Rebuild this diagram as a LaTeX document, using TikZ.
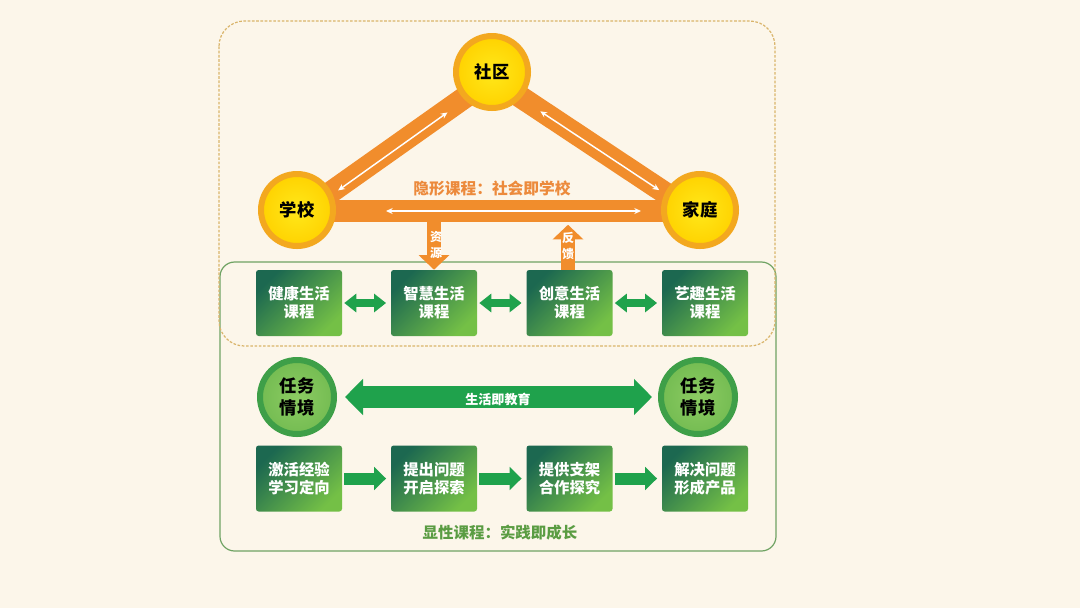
\documentclass[tikz,border=0pt]{standalone}
\usepackage{fontspec}
\setmainfont{Noto Sans CJK SC}
\usetikzlibrary{arrows.meta,calc}
\definecolor{bgc}{HTML}{FCF6EA}
\definecolor{dashc}{HTML}{D9B46A}
\definecolor{gframe}{HTML}{6FA363}
\definecolor{obar}{HTML}{F18D2C}
\definecolor{otext}{HTML}{EC8A3C}
\definecolor{yring}{HTML}{F3A81F}
\definecolor{yin}{HTML}{FFE81A}
\definecolor{yout}{HTML}{FFD200}
\definecolor{bdark}{HTML}{1C6850}
\definecolor{blight}{HTML}{74C046}
\definecolor{garr}{HTML}{1FA24C}
\definecolor{gring}{HTML}{3E9F48}
\definecolor{gin}{HTML}{8CCB62}
\definecolor{gout}{HTML}{74BC52}
\definecolor{gtext}{HTML}{5A9C42}
\pgfdeclarelayer{bg}
\pgfsetlayers{bg,main}
\tikzset{
  ycirc/.style={circle, draw=yring, line width=4.5pt, inner color=yin, outer color=yout,
    minimum size=54pt, inner sep=0pt, font=\bfseries\fontsize{13}{15}\selectfont, text=black},
  gcirc/.style={circle, draw=gring, line width=4.5pt, inner color=gin, outer color=gout,
    minimum size=55.5pt, inner sep=0pt, align=center,
    font=\bfseries\fontsize{13}{16.5}\selectfont, text=black},
  gbox/.style={rectangle, rounded corners=2pt, minimum width=64.5pt, minimum height=49.5pt,
    inner sep=0pt, align=center, top color=bdark, bottom color=blight, shading angle=45,
    text=white, font=\bfseries\fontsize{11.5}{13.5}\selectfont},
  barline/.style={draw=obar, line width=16.5pt},
  warrow/.style={draw=white, line width=1.1pt, {Stealth[length=5pt,width=4.5pt]}-{Stealth[length=5pt,width=4.5pt]}},
  oarrow/.style={draw=obar, line width=11pt, -{Triangle[length=11pt,width=22.5pt]}},
  dbl/.style={draw=garr, line width=6pt, {Triangle[length=9pt,width=13.5pt]}-{Triangle[length=9pt,width=13.5pt]}, shorten <=1.5pt, shorten >=3.5pt},
  fwd/.style={draw=garr, line width=9pt, -{Triangle[length=9pt,width=17pt]}, shorten <=1.5pt, shorten >=3.5pt},
  bigarr/.style={draw=garr, line width=17pt, {Triangle[length=13.5pt,width=26.5pt]}-{Triangle[length=13.5pt,width=26.5pt]}, shorten <=6pt, shorten >=4.5pt},
  vlabel/.style={text=white, align=center, inner sep=0pt, font=\bfseries\fontsize{9}{12}\selectfont},
}
\begin{document}
\begin{tikzpicture}[x=0.75pt,y=-0.75pt]
\useasboundingbox (0,0) rectangle (1080,608);

% circles
\node[ycirc] (sq) at (492,72) {社区};
\node[ycirc] (xx) at (297,210) {学校};
\node[ycirc] (jt) at (700,210) {家庭};

% course boxes row 1
\node[gbox] (b1) at (299,303) {健康生活\\课程};
\node[gbox] (b2) at (434,303) {智慧生活\\课程};
\node[gbox] (b3) at (569.5,303) {创意生活\\课程};
\node[gbox] (b4) at (705,303) {艺趣生活\\课程};

% task circles
\node[gcirc] (t1) at (297,397) {任务\\情境};
\node[gcirc] (t2) at (698,397) {任务\\情境};

% step boxes row 2
\node[gbox] (s1) at (299,478.5) {激活经验\\学习定向};
\node[gbox] (s2) at (434,478.5) {提出问题\\开启探索};
\node[gbox] (s3) at (569.5,478.5) {提供支架\\合作探究};
\node[gbox] (s4) at (705,478.5) {解决问题\\形成产品};

\begin{pgfonlayer}{bg}
  \fill[bgc] (0,0) rectangle (1080,608);
  \draw[gframe, line width=0.9pt, rounded corners=11pt] (220,262) rectangle (776,551);
  \draw[dashc, line width=0.9pt, dash pattern=on 2pt off 1.2pt, rounded corners=19pt] (219,21) rectangle (775,346);
  % bars
  \draw[barline] ($(xx.center)+(2.9,4.1)$) -- ($(sq.center)+(2.9,4.1)$);
  \draw[barline] ($(sq.center)+(-2.8,4.2)$) -- ($(jt.center)+(-2.8,4.2)$);
  \draw[barline] ($(xx.center)+(0,1)$) -- ($(jt.center)+(0,1)$);
  % resource / feedback arrows
  \draw[oarrow] (b2.north |- xx.center) -- (b2.north);
  \coordinate (fbtip) at ($(b3.north)+(-1.5,-45)$);
  \draw[oarrow] ($(b3.north)+(-1.5,0)$) -- (fbtip);
\end{pgfonlayer}

% white inner arrows
\draw[warrow] ($(xx.center)+(41.2,-19.6)$) -- ($(sq.center)+(-44.5,40.4)$);
\draw[warrow] ($(sq.center)+(48.3,39.3)$) -- ($(jt.center)+(-40.8,-19.9)$);
\draw[warrow] ($(xx.center)+(89,1)$) -- ($(jt.center)+(-59,1)$);

\node[text=otext, font=\bfseries\fontsize{11.8}{14}\selectfont] (hid) at (492,188) {隐形课程：社会即学校};
\node[vlabel] (zy) at (436,245) {资\\源};
\node[vlabel] (fk) at (568,246) {反\\馈};

% green arrows
\draw[dbl] (b1) -- (b2);
\draw[dbl] (b2) -- (b3);
\draw[dbl] (b3) -- (b4);
\draw[fwd] (s1) -- (s2);
\draw[fwd] (s2) -- (s3);
\draw[fwd] (s3) -- (s4);
\draw[bigarr] (t1) -- (t2);
\node[text=white, font=\bfseries\fontsize{9.8}{12}\selectfont] (life) at (498,399) {生活即教育};

\node[text=gtext, font=\bfseries\fontsize{11.6}{14}\selectfont] (exp) at (500,533) {显性课程：实践即成长};
\end{tikzpicture}
\end{document}
